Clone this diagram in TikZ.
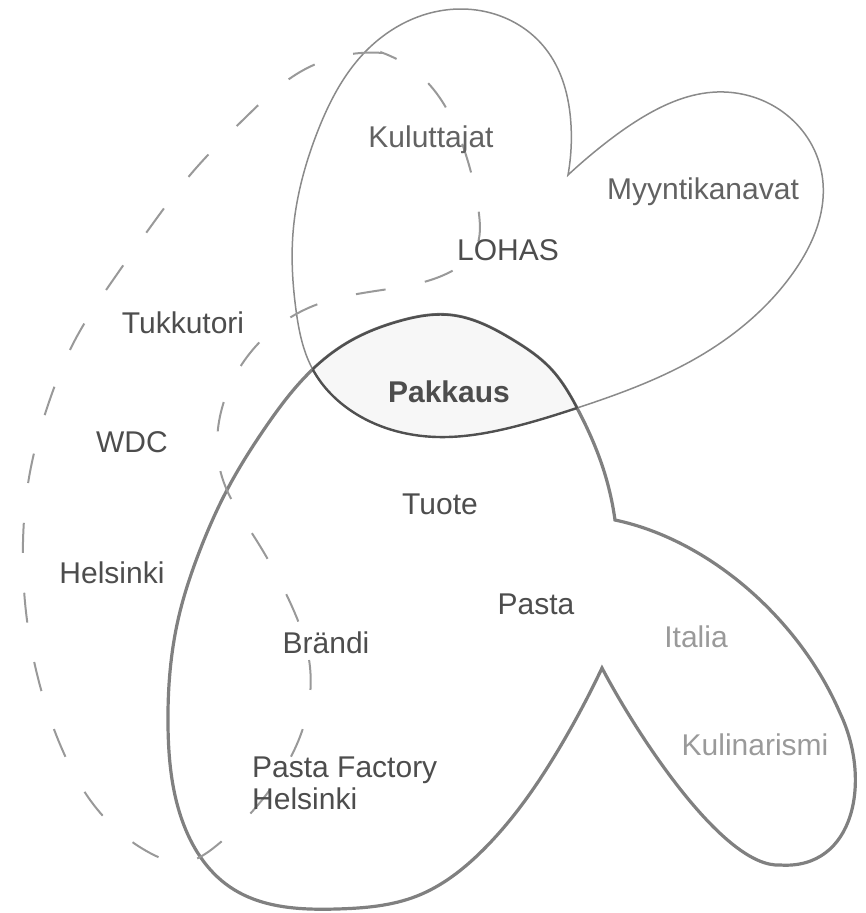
\documentclass[tikz,border=0pt]{standalone}
\usepackage{fontspec}
\setmainfont{Liberation Sans}
\usetikzlibrary{hobby}
\definecolor{heartc}{HTML}{8A8A8A}
\definecolor{eggc}{HTML}{808080}
\definecolor{lensline}{HTML}{505050}
\definecolor{lensfill}{HTML}{F7F7F7}
\definecolor{dashc}{HTML}{999999}
\definecolor{txtdark}{HTML}{4D4D4D}
\definecolor{txtmid}{HTML}{626262}
\definecolor{txtpale}{HTML}{9A9A9A}
\tikzset{
  heartp/.style={insert path={(568,175) to[curve through={(571,125) .. (545,48) .. (460,9) .. (367,50) .. (317,133) .. (293,233) .. (296,310) .. (312,368) .. (350,410) .. (437,437) .. (513,427) .. (577,408) .. (693,360) .. (793,273) .. (823,183) .. (807,137) .. (717,92) .. (643,117) .. (603,145)}] (568,175) -- cycle}},
  eggp/.style={insert path={(602,668) to[curve through={(560,747) .. (483,850) .. (417,896) .. (337,909) .. (230,887) .. (182,820) .. (168,725) .. (178,620) .. (200,550) .. (227,490) .. (265,428) .. (312,370) .. (347,343) .. (400,321) .. (450,315) .. (513,340) .. (550,368) .. (577,408) .. (603,468)}] (615,520)
      .. controls (710,540) and (800,620) .. (840,713)
      .. controls (872,780) and (855,870) .. (780,865)
      .. controls (725,868) and (640,740) .. (602,668) -- cycle}},
  dashp/.style={insert path={(383,53) to[curve through={(300,72) .. (246,117) .. (197,167) .. (154,222) .. (113,280) .. (75,340) .. (48,405) .. (30,472) .. (23,542) .. (26,612) .. (39,682) .. (62,749) .. (97,809) .. (150,853) .. (185,862) .. (216,846) .. (266,795) .. (301,734) .. (310,667) .. (289,600) .. (255,538) .. (222,477) .. (222,408) .. (256,346) .. (313,306) .. (382,290) .. (452,271) .. (476,248) .. (479,214) .. (464,149) .. (428,83)}] (383,53) -- cycle}},
  heartline/.style={draw=heartc, line width=1.5pt},
  eggline/.style={draw=eggc, line width=3.2pt},
  dashline/.style={draw=dashc, line width=2pt, dash pattern=on 30pt off 40pt},
  lensedge/.style={draw=lensline, line width=2.4pt},
  lbl/.style={font=\fontsize{30}{32}\selectfont, text=txtdark, inner sep=0pt, anchor=base},
  lblmid/.style={lbl, text=txtmid},
  lblpale/.style={lbl, text=txtpale},
}
\begin{document}
\begin{tikzpicture}[x=1pt,y=-1pt]
\useasboundingbox (0,0) rectangle (865,913);
% outlines
\path[heartp, heartline];
\path[eggp, eggline];
\path[dashp, dashline];
% lens (intersection) fill and outline
\begin{scope}
  \clip[heartp];
  \path[eggp, fill=lensfill];
  \path[eggp, lensedge];
\end{scope}
\begin{scope}
  \clip[eggp];
  \path[heartp, lensedge];
\end{scope}
% labels
\node[lblmid] (kuluttajat) at (431,147) {Kuluttajat};
\node[lblmid] (myynti) at (703,199) {Myyntikanavat};
\node[lbl] (lohas) at (508,260) {LOHAS};
\node[lbl] (tukkutori) at (183,333) {Tukkutori};
\node[lbl] (wdc) at (132,452) {WDC};
\node[lbl] (helsinki) at (112,583) {Helsinki};
\node[lbl, font=\fontsize{30}{32}\selectfont\bfseries] (pakkaus) at (449,402) {Pakkaus};
\node[lbl] (tuote) at (440,514) {Tuote};
\node[lbl] (pasta) at (536,614) {Pasta};
\node[lbl] (brandi) at (326,653) {Brändi};
\node[lbl, anchor=north west, align=left] (pfh) at (252,757) {Pasta Factory\\Helsinki};
\node[lblpale] (italia) at (696,647) {Italia};
\node[lblpale] (kulinarismi) at (755,755) {Kulinarismi};
\end{tikzpicture}
\end{document}
